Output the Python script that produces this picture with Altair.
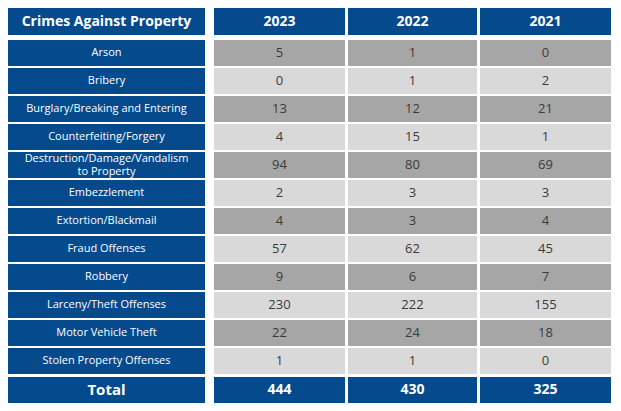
import altair as alt
import pandas as pd

# ---- data ----
title = "Crimes Against Property"
years = ["2023", "2022", "2021"]
categories = [
    "Arson", "Bribery", "Burglary/Breaking and Entering", "Counterfeiting/Forgery",
    "Destruction/Damage/Vandalism\nto Property", "Embezzlement", "Extortion/Blackmail",
    "Fraud Offenses", "Robbery", "Larceny/Theft Offenses", "Motor Vehicle Theft",
    "Stolen Property Offenses",
]
v2023 = [5, 0, 13, 4, 94, 2, 4, 57, 9, 230, 22, 1]
v2022 = [1, 1, 12, 15, 80, 3, 3, 62, 6, 222, 24, 1]
v2021 = [0, 2, 21, 1, 69, 3, 4, 45, 7, 155, 18, 0]
totals = [444, 430, 325]
total_label = "Total"

# ---- layout (table geometry, in page pixels) ----
col_edges = [(8, 205), (214, 345), (348, 477), (480, 611)]
header_rows = (8, 35)
row_top0, row_pitch, row_h = 40, 28, 26
total_rows = (377, 403)

BLUE = "#054a8d"
DARK = "#a6a6a6"
LIGHT = "#d9d9d9"
TXT = "#3b3b3b"

cells = []
def add(col, ytop, ybot, fill, text, color, size, bold):
    x1, x2 = col_edges[col]
    cells.append(dict(x1=x1, x2=x2, y1=ytop, y2=ybot, fill=fill, text=text,
                      color=color, size=size, bold=bold))

add(0, *header_rows, BLUE, title, "white", 14, True)
for j, y in enumerate(years):
    add(j + 1, *header_rows, BLUE, y, "white", 14, True)

series = [v2023, v2022, v2021]
for i, cat in enumerate(categories):
    top = row_top0 + i * row_pitch
    bot = top + row_h
    fill = DARK if i % 2 == 0 else LIGHT
    add(0, top, bot, BLUE, cat, "white", 11, False)
    for j in range(3):
        add(j + 1, top, bot, fill, str(series[j][i]), TXT, 13, False)

add(0, *total_rows, BLUE, total_label, "white", 15, True)
for j in range(3):
    add(j + 1, *total_rows, BLUE, str(totals[j]), "white", 14, True)

df = pd.DataFrame(cells)

xs = alt.Scale(domain=[8, 613])
ys = alt.Scale(domain=[8, 403], reverse=True)

base = alt.Chart(df)

rects = base.mark_rect().encode(
    x=alt.X("x1:Q", scale=xs, axis=None),
    x2="x2:Q",
    y=alt.Y("y1:Q", scale=ys, axis=None),
    y2="y2:Q",
    fill=alt.Fill("fill:N", scale=None),
)

def text_layer(bold):
    return base.transform_filter(
        alt.datum.bold == bold
    ).transform_calculate(
        cx="(datum.x1 + datum.x2) / 2",
        cy="(datum.y1 + datum.y2) / 2 - (indexof(datum.text, '\\n') >= 0 ? 6.5 : 0)",
    ).mark_text(
        font="Open Sans", fontWeight="bold" if bold else "normal",
        baseline="middle", align="center", lineBreak="\n", lineHeight=13,
    ).encode(
        x=alt.X("cx:Q", scale=xs, axis=None),
        y=alt.Y("cy:Q", scale=ys, axis=None),
        text="text:N",
        color=alt.Color("color:N", scale=None),
        size=alt.Size("size:Q", scale=None),
    )

chart = alt.layer(rects, text_layer(False), text_layer(True)).properties(
    width=605, height=395, padding=0, background="white"
).configure_view(stroke=None)

chart.save("out.html", embed_options={"renderer": "svg", "actions": False})
